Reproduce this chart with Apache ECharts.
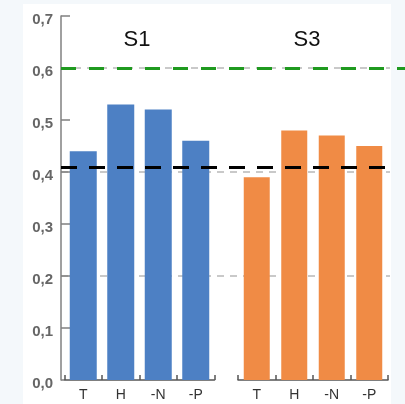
<!DOCTYPE html>
<html>
<head>
<meta charset="utf-8">
<script src="https://cdn.jsdelivr.net/npm/echarts@6/dist/echarts.min.js"></script>
<style>
  html, body { margin: 0; padding: 0; background: #f4f8fb; }
  #chart { width: 405px; height: 404px; }
</style>
</head>
<body>
<div id="chart"></div>
<script>
// Categories and values for the two groups
const categories = ['T', 'H', '-N', '-P'];
const groupNames = ['S1', 'S3'];
const s1Values = [0.44, 0.53, 0.52, 0.46];
const s3Values = [0.39, 0.48, 0.47, 0.45];
const yTickLabels = ['0,0', '0,1', '0,2', '0,3', '0,4', '0,5', '0,6', '0,7'];
const targetLevel = 0.6;    // green reference line
const baselineLevel = 0.405; // black reference line

const FONT = 'Liberation Sans, Arial, sans-serif';
const Y_MAX = 0.7;

const chart = echarts.init(document.getElementById('chart'), null, { renderer: 'canvas' });

const hiddenValueX = (gridIndex) => ({
  type: 'value', gridIndex, min: 0, max: 1, show: false
});

const hiddenY = (gridIndex, extra) => Object.assign({
  type: 'value', gridIndex, min: 0, max: Y_MAX, interval: 0.1,
  axisLine: { show: false }, axisTick: { show: false },
  axisLabel: { show: false }, splitLine: { show: false }
}, extra || {});

const categoryX = (gridIndex) => ({
  type: 'category', gridIndex, data: categories, boundaryGap: true,
  axisLine: { show: true, lineStyle: { color: '#555', width: 1.5 } },
  axisTick: { show: true, inside: true, length: 5, alignWithLabel: false,
              lineStyle: { color: '#555', width: 1.5 } },
  axisLabel: { color: '#333', fontSize: 14, fontFamily: FONT, margin: 8 },
  splitLine: { show: false }
});

const option = {
  animation: false,
  backgroundColor: '#f4f8fb',
  graphic: [{
    type: 'rect', z: -10, silent: true,
    shape: { x: 23, y: 4, width: 368, height: 400 },
    style: { fill: '#ffffff' }
  }],
  title: [
    { text: groupNames[0], left: 137, top: 29, padding: 0, textAlign: 'center',
      textStyle: { fontSize: 22, fontWeight: 'normal', color: '#111', fontFamily: FONT } },
    { text: groupNames[1], left: 307, top: 29, padding: 0, textAlign: 'center',
      textStyle: { fontSize: 22, fontWeight: 'normal', color: '#111', fontFamily: FONT } }
  ],
  grid: [
    // 0: main value axis + green line (runs to the right edge)
    { left: 61, right: 0, top: 16, bottom: 24 },
    // 1: dashed gridlines every 0.2 + black line
    { left: 61, right: 15, top: 16, bottom: 24 },
    // 2: S1 bars
    { left: 64.5, width: 150, top: 16, bottom: 24 },
    // 3: S3 bars
    { left: 238, width: 150, top: 16, bottom: 24 }
  ],
  xAxis: [hiddenValueX(0), hiddenValueX(1), categoryX(2), categoryX(3)],
  yAxis: [
    {
      type: 'value', gridIndex: 0, min: 0, max: Y_MAX, interval: 0.1,
      axisLine: { show: true, lineStyle: { color: '#808080', width: 1.5 } },
      axisTick: { show: true, inside: true, length: 9, lineStyle: { color: '#808080', width: 1.5 } },
      axisLabel: {
        margin: 8,
        formatter: (v) => '{t|' + yTickLabels[Math.round(v * 10)] + '}',
        rich: {
          t: { color: '#666', fontSize: 15, fontWeight: 'bold', fontFamily: FONT, padding: [8, 0, 0, 0] }
        }
      },
      splitLine: { show: false }
    },
    hiddenY(1, {
      interval: 0.2,
      splitLine: {
        show: true, showMaxLine: false, showMinLine: false,
        lineStyle: { color: '#b8b8b8', width: 1.5, type: [7, 6] }
      }
    }),
    hiddenY(2),
    hiddenY(3)
  ],
  series: [
    {
      type: 'line', xAxisIndex: 0, yAxisIndex: 0, data: [], silent: true,
      markLine: {
        silent: true, symbol: 'none', label: { show: false },
        lineStyle: { color: '#1f9a1f', width: 3, type: [15, 13] },
        data: [{ yAxis: targetLevel }]
      }
    },
    {
      type: 'bar', xAxisIndex: 2, yAxisIndex: 2, data: s1Values, barWidth: 27,
      itemStyle: { color: '#4d80c4' }, z: 2
    },
    {
      type: 'bar', xAxisIndex: 3, yAxisIndex: 3, data: s3Values, barWidth: 26,
      itemStyle: { color: '#f08b45' }, z: 2
    },
    {
      type: 'line', xAxisIndex: 1, yAxisIndex: 1, data: [], silent: true, z: 5,
      markLine: {
        silent: true, symbol: 'none', label: { show: false },
        lineStyle: { color: '#000', width: 3, type: [16, 12] },
        data: [{ yAxis: baselineLevel }]
      }
    }
  ]
};

chart.setOption(option);
</script>
</body>
</html>
